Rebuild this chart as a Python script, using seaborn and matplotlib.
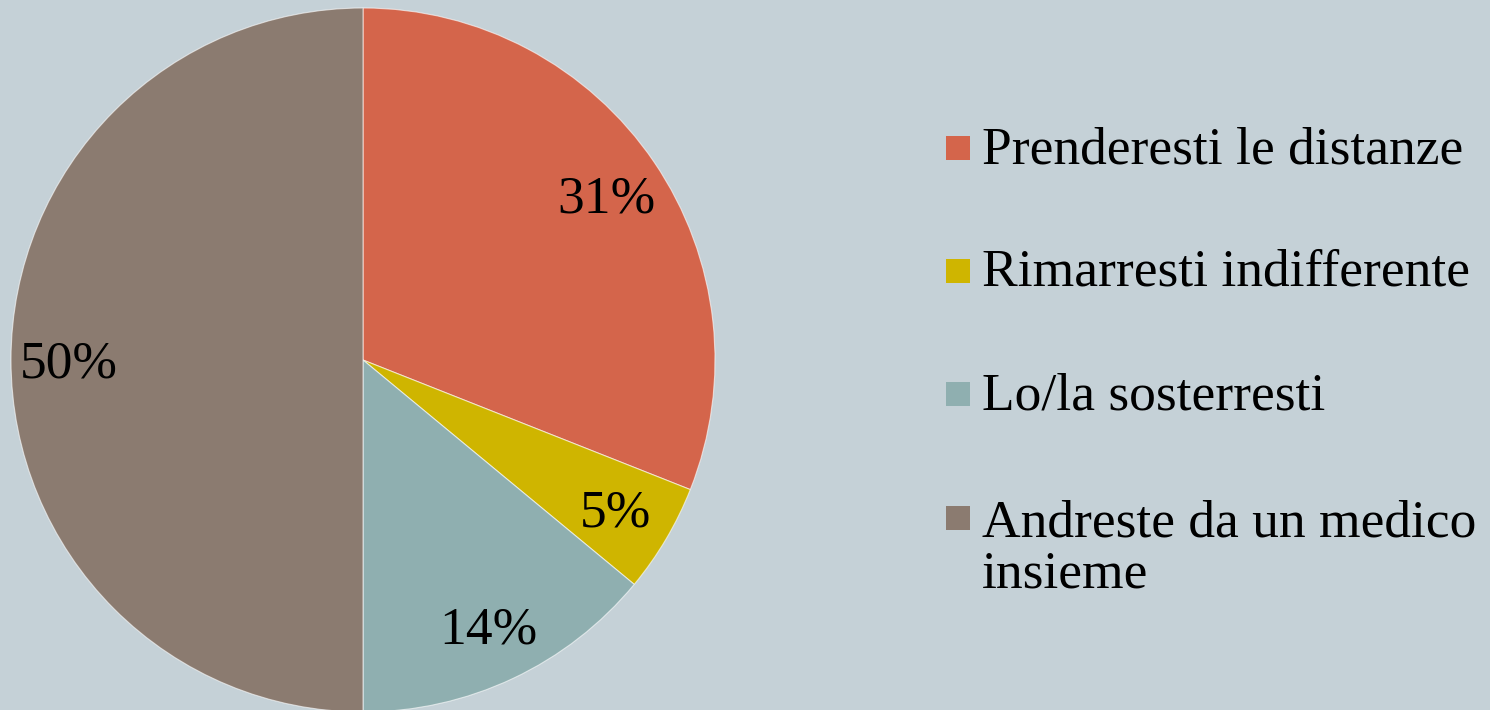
import matplotlib
matplotlib.use("Agg")
import matplotlib.pyplot as plt
from matplotlib.patches import Rectangle
import seaborn as sns

categories = ["Prenderesti le distanze", "Rimarresti indifferente",
              "Lo/la sosterresti", "Andreste da un medico\ninsieme"]
values = [31, 5, 14, 50]
colors = ["#D4654B", "#CFB500", "#8FAFB0", "#8B7B70"]
bg = "#C5D1D7"

sns.set_theme(style="white")
plt.rcParams["font.family"] = ["Liberation Serif", "DejaVu Serif"]

W, H = 1490, 710
fig = plt.figure(figsize=(W / 100, H / 100), dpi=100, facecolor=bg)

cx, cy, r = 363, 360, 352
ax = fig.add_axes([(cx - r) / W, (H - cy - r) / H, 2 * r / W, 2 * r / H])
ax.set_facecolor(bg)
wedges, texts, autotexts = ax.pie(
    values, colors=colors, startangle=90, counterclock=False,
    autopct=lambda p: f"{p:.0f}%", pctdistance=0.835, radius=1,
    wedgeprops=dict(edgecolor=(1, 1, 1, 0.6), linewidth=0.8),
    textprops=dict(fontsize=38.5, color="black"))
for t in autotexts:
    x, y = t.get_position()
    t.set_position((x, y - 0.012))
ax.set_xlim(-1, 1)
ax.set_ylim(-1, 1)
ax.set_aspect("equal")
ax.axis("off")

baselines = [163, 286, 409, 533]
line_h = 55
sq = 24
for lab, col, b in zip(categories, colors, baselines):
    fig.patches.append(Rectangle((946 / W, (H - b + 3) / H), sq / W, sq / H,
                                 transform=fig.transFigure, facecolor=col,
                                 edgecolor="none"))
    extra = lab.count("\n")
    fig.text(982 / W, (H - b - extra * line_h) / H, lab, fontsize=38.5,
             va="baseline", ha="left", color="black", linespacing=1.1)

fig.savefig("out.png", dpi=100, facecolor=bg)
